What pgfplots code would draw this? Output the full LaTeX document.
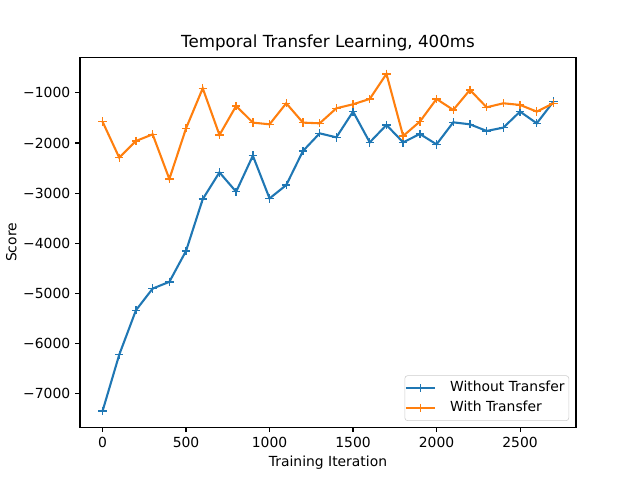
\documentclass[border=0pt]{standalone}
\usepackage{pgfplots}
\pgfplotsset{compat=1.18}
\usepackage{fontspec}
\setmainfont{DejaVu Sans}
\definecolor{mblue}{HTML}{1F77B4}
\definecolor{morange}{HTML}{FF7F0E}
\begin{document}
\begin{tikzpicture}
\path[use as bounding box] (0,0) rectangle (460.8pt,345.6pt);
\begin{axis}[
  at={(57.6pt,38.02pt)}, anchor=south west,
  scale only axis, width=357.12pt, height=266.1pt,
  xmin=-135, xmax=2835, ymin=-7675, ymax=-295,
  xtick={0,500,1000,1500,2000,2500},
  ytick={-7000,-6000,-5000,-4000,-3000,-2000,-1000},
  yticklabels={−7000,−6000,−5000,−4000,−3000,−2000,−1000},
  /pgf/number format/assume math mode=true,
  /pgf/number format/1000 sep={},
  tick align=outside, tick pos=left,
  major tick length=3.5pt,
  every tick/.style={black, line width=0.8pt},
  axis line style={line width=0.8pt},
  tick label style={font=\fontsize{10}{12}\selectfont},
  label style={font=\fontsize{10}{12}\selectfont},
  title style={font=\fontsize{12}{14}\selectfont, yshift=-5pt},
  title={Temporal Transfer Learning, 400ms},
  xlabel={Training Iteration}, ylabel={Score},
  xlabel style={yshift=1pt}, ylabel style={yshift=-2pt},
  legend style={font=\fontsize{10}{12}\selectfont, draw=black!20, rounded corners=2pt,
    inner xsep=0pt, inner ysep=1.8pt,
    nodes={text height=7.5pt, text depth=2pt, inner ysep=2.45pt, inner xsep=3pt},
    /tikz/every odd column/.append style={column sep=7pt},
    at={(1,0)}, xshift=-5pt, yshift=4.5pt, anchor=south east},
  legend image code/.code={\draw[mark repeat=2,mark phase=2] plot coordinates {(0cm,0cm)(0.37cm,0cm)(0.74cm,0cm)};},
  legend cell align=left,
]
\addplot[mblue, line width=1.5pt, mark=+, mark size=3pt, mark options={line width=1pt}] coordinates {
(0,-7353) (100,-6227) (200,-5340) (300,-4907) (400,-4773) (500,-4155)
(600,-3120) (700,-2587) (800,-2973) (900,-2253) (1000,-3107) (1100,-2840)
(1200,-2160) (1300,-1807) (1400,-1887) (1500,-1373) (1600,-1987) (1700,-1640)
(1800,-1987) (1900,-1820) (2000,-2027) (2100,-1587) (2200,-1627) (2300,-1760)
(2400,-1693) (2500,-1373) (2600,-1607) (2700,-1173)
};
\addlegendentry{Without Transfer}
\addplot[morange, line width=1.5pt, mark=+, mark size=3pt, mark options={line width=1pt}] coordinates {
(0,-1574) (100,-2293) (200,-1960) (300,-1827) (400,-2720) (500,-1707)
(600,-907) (700,-1840) (800,-1260) (900,-1593) (1000,-1627) (1100,-1207)
(1200,-1593) (1300,-1607) (1400,-1307) (1500,-1227) (1600,-1120) (1700,-620)
(1800,-1860) (1900,-1573) (2000,-1120) (2100,-1340) (2200,-940) (2300,-1287)
(2400,-1207) (2500,-1240) (2600,-1373) (2700,-1207)
};
\addlegendentry{With Transfer}
\end{axis}
\end{tikzpicture}
\end{document}
